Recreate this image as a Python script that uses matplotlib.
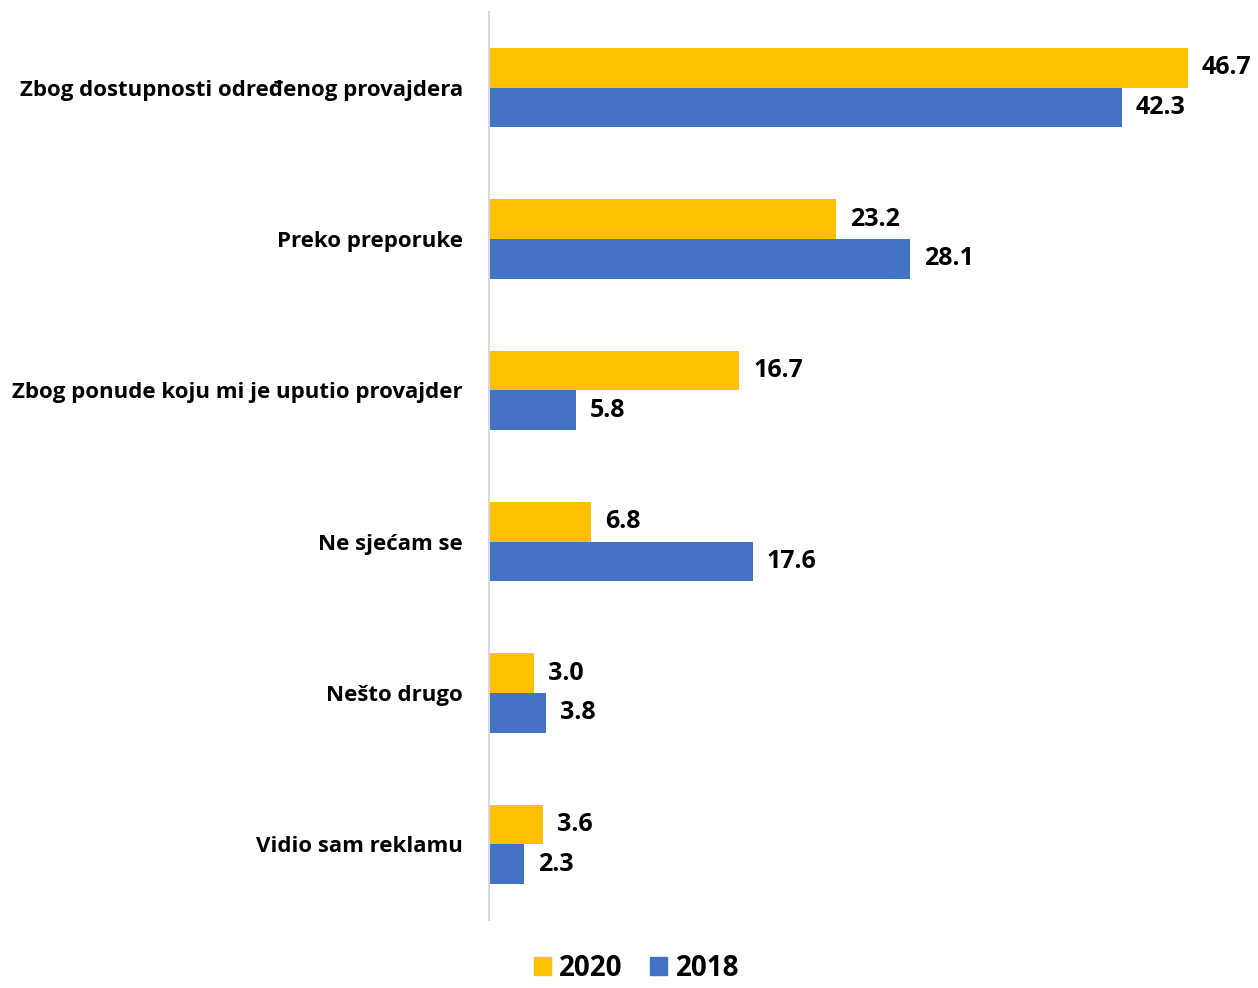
import matplotlib
matplotlib.use("Agg")
import matplotlib.pyplot as plt
import numpy as np
from matplotlib.patches import Patch

plt.rcParams["font.family"] = ["Open Sans", "DejaVu Sans"]
plt.rcParams["font.weight"] = "bold"

categories = [
    "Zbog dostupnosti određenog provajdera",
    "Preko preporuke",
    "Zbog ponude koju mi je uputio provajder",
    "Ne sjećam se",
    "Nešto drugo",
    "Vidio sam reklamu",
]
vals_2020 = [46.7, 23.2, 16.7, 6.8, 3.0, 3.6]
vals_2018 = [42.3, 28.1, 5.8, 17.6, 3.8, 2.3]

C_2020 = "#FFC000"
C_2018 = "#4472C4"

fig = plt.figure(figsize=(12.58, 9.88), dpi=100)
ax = fig.add_axes([0.389, 0.0688, 0.5946, 0.919])

y = np.arange(len(categories))
h = 0.262

b1 = ax.barh(y - h / 2, vals_2020, h, color=C_2020)
b2 = ax.barh(y + h / 2, vals_2018, h, color=C_2018)

# value labels just right of each bar end
for bars, vals in [(b1, vals_2020), (b2, vals_2018)]:
    for bar, v in zip(bars, vals):
        ax.annotate(f"{v:.1f}", (v, bar.get_y() + bar.get_height() / 2),
                    xytext=(10, 0), textcoords="offset points",
                    ha="left", va="center", fontsize=18, fontweight="bold",
                    annotation_clip=False)

ax.set_xlim(0, 50)
ax.set_ylim(len(categories) - 0.5, -0.5)
ax.set_yticks(y)
ax.set_yticklabels(categories, fontsize=16, fontweight="bold")
ax.tick_params(axis="y", length=0, pad=19)
ax.set_xticks([])
for s in ["top", "right", "bottom"]:
    ax.spines[s].set_visible(False)
ax.spines["left"].set_color("#D9D9D9")
ax.spines["left"].set_linewidth(1.5)

handles = [Patch(color=C_2020, label="2020"), Patch(color=C_2018, label="2018")]
fig.legend(handles=handles, loc="center", bbox_to_anchor=(0.506, 0.02),
           ncol=2, frameon=False, prop={"size": 20, "weight": "bold"},
           handlelength=0.6, handleheight=0.6, handletextpad=0.3, columnspacing=1.0,
           borderpad=0.1)

fig.savefig("out.png", dpi=100)
